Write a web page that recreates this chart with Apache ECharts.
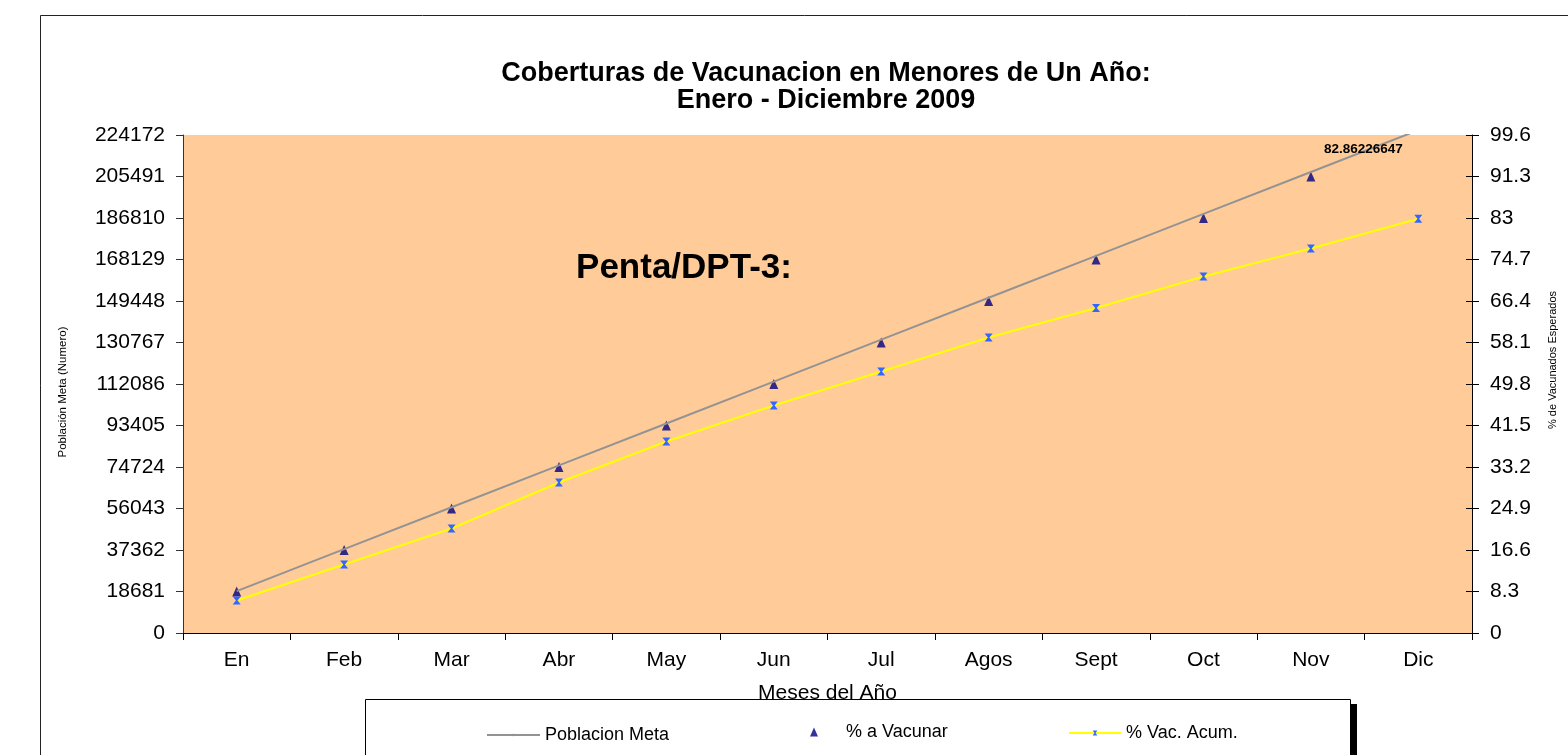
<!DOCTYPE html>
<html>
<head>
<meta charset="utf-8">
<script src="https://cdn.jsdelivr.net/npm/echarts@6/dist/echarts.min.js"></script>
<style>html,body{margin:0;padding:0;background:#fff}#c{width:1568px;height:755px}</style>
</head>
<body>
<div id="c"></div>
<script>
const categories = ['En','Feb','Mar','Abr','May','Jun','Jul','Agos','Sept','Oct','Nov','Dic'];
const poblacionMeta = [18864, 37728, 56592, 75456, 94320, 113184, 132048, 150912, 169776, 188640, 207504, 226368];
const pctVacunar = [8.3, 16.6, 24.9, 33.2, 41.5, 49.8, 58.1, 66.4, 74.7, 83.0, 91.3, '-'];
const pctVacAcum = [6.5, 13.7, 20.9, 30.1, 38.3, 45.5, 52.3, 59.1, 65.0, 71.3, 76.9, 82.86226647];
const leftAxisMax = 224172, leftAxisStep = 18681;
const rightAxisMax = 99.6, rightAxisStep = 8.3;

const FONT = 'Liberation Sans, Arial, sans-serif';
const chart = echarts.init(document.getElementById('c'));

const acumData = pctVacAcum.map((v, i) => i === pctVacAcum.length - 1 ? {
  value: v,
  label: {show: true, position: 'inside', offset: [-55, -69], formatter: '{c}',
    fontFamily: FONT, fontWeight: 'bold', fontSize: 13.5, color: '#000'}
} : v);

chart.setOption({
  animation: false,
  backgroundColor: '#fff',
  textStyle: {fontFamily: FONT},
  grid: {left: 183, right: 96, top: 135, bottom: 122, show: true, backgroundColor: '#FFCC99', borderWidth: 0},
  xAxis: {
    type: 'category', data: categories, boundaryGap: true,
    name: 'Meses del Año', nameLocation: 'middle', nameGap: 50,
    nameTextStyle: {fontSize: 21, color: '#000', fontFamily: FONT},
    axisLine: {lineStyle: {color: '#000', width: 1}},
    axisTick: {show: true, length: 7, lineStyle: {color: '#000'}},
    axisLabel: {fontSize: 21, color: '#000', margin: 17, fontFamily: FONT},
    splitLine: {show: false}
  },
  yAxis: [{
    type: 'value', min: 0, max: leftAxisMax, interval: leftAxisStep, position: 'left',
    axisLine: {show: true, lineStyle: {color: '#333', width: 1}},
    axisTick: {show: true, length: 7, lineStyle: {color: '#333'}},
    axisLabel: {fontSize: 21, color: '#000', margin: 18, fontFamily: FONT, formatter: v => String(v)},
    splitLine: {show: false}
  }, {
    type: 'value', min: 0, max: rightAxisMax, interval: rightAxisStep, position: 'right',
    axisLine: {show: true, lineStyle: {color: '#000', width: 1}},
    axisTick: {show: true, length: 7, lineStyle: {color: '#000'}},
    axisLabel: {fontSize: 21, color: '#000', margin: 18, fontFamily: FONT,
      formatter: v => String(Number(v.toFixed(1)))},
    splitLine: {show: false}
  }, {
    type: 'value', min: 0, max: rightAxisMax, interval: rightAxisStep, position: 'right',
    axisLine: {show: false},
    axisTick: {show: true, inside: true, length: 6, lineStyle: {color: '#000'}},
    axisLabel: {show: false},
    splitLine: {show: false}
  }],
  legend: [{
    data: ['Poblacion Meta'], left: 486, top: 726, padding: 0, z: 20,
    itemWidth: 53, itemHeight: 3,
    textStyle: {fontSize: 18, color: '#000', fontFamily: FONT}
  }, {
    data: ['% a Vacunar'], left: 810, top: 723, padding: 0, z: 20,
    itemWidth: 8, itemHeight: 9,
    textStyle: {fontSize: 18, color: '#000', fontFamily: FONT, padding: [0, 0, 0, 23]}
  }, {
    data: ['% Vac. Acum.'], left: 1068, top: 724, padding: 0, z: 20,
    itemWidth: 52, itemHeight: 6,
    textStyle: {fontSize: 18, color: '#000', fontFamily: FONT}
  }],
  series: [{
    name: 'Poblacion Meta', type: 'line', yAxisIndex: 0, data: poblacionMeta,
    symbol: 'none', clip: true,
    lineStyle: {color: '#939393', width: 2}, itemStyle: {color: '#939393'}
  }, {
    name: '% a Vacunar', type: 'scatter', yAxisIndex: 1, data: pctVacunar,
    symbol: 'triangle', symbolSize: [9, 10], clip: true,
    itemStyle: {color: '#000080'}
  }, {
    name: '% Vac. Acum.', type: 'line', yAxisIndex: 1, data: acumData,
    symbol: 'path://M0,0H10L6,5L10,10H0L4,5Z', symbolSize: 8, showSymbol: true,
    lineStyle: {color: '#FFFF00', width: 2}, itemStyle: {color: '#3366FF'}
  }],
  graphic: [
    {type: 'rect', z: -10, silent: true, shape: {x: 40.5, y: 15.5, width: 1600, height: 800},
      style: {fill: 'none', stroke: '#222', lineWidth: 1}},
    {type: 'text', x: 826, y: 60, silent: true,
      style: {text: 'Coberturas de Vacunacion en Menores de Un Año:\nEnero - Diciembre 2009',
        fontFamily: FONT, fontWeight: 'bold', fontSize: 27, lineHeight: 27, fill: '#000', align: 'center'}},
    {type: 'text', x: 684, y: 268, silent: true, z: 50,
      style: {text: 'Penta/DPT-3:', fontFamily: FONT, fontWeight: 'bold', fontSize: 35, fill: '#000',
        align: 'center', verticalAlign: 'middle'}},
    {type: 'text', x: 63, y: 392, rotation: Math.PI / 2, silent: true,
      style: {text: 'Población Meta (Numero)', fontFamily: FONT, fontSize: 11.5, fill: '#000',
        align: 'center', verticalAlign: 'middle'}},
    {type: 'text', x: 1553, y: 360, rotation: Math.PI / 2, silent: true,
      style: {text: '% de Vacunados Esperados', fontFamily: FONT, fontSize: 11, fill: '#000',
        align: 'center', verticalAlign: 'middle'}},
    {type: 'rect', z: 1, silent: true, shape: {x: 1351, y: 704, width: 6, height: 60},
      style: {fill: '#000'}},
    {type: 'rect', z: 2, silent: true, shape: {x: 365.5, y: 699.5, width: 985, height: 100},
      style: {fill: '#fff', stroke: '#000', lineWidth: 1}}
  ]
});
</script>
</body>
</html>
